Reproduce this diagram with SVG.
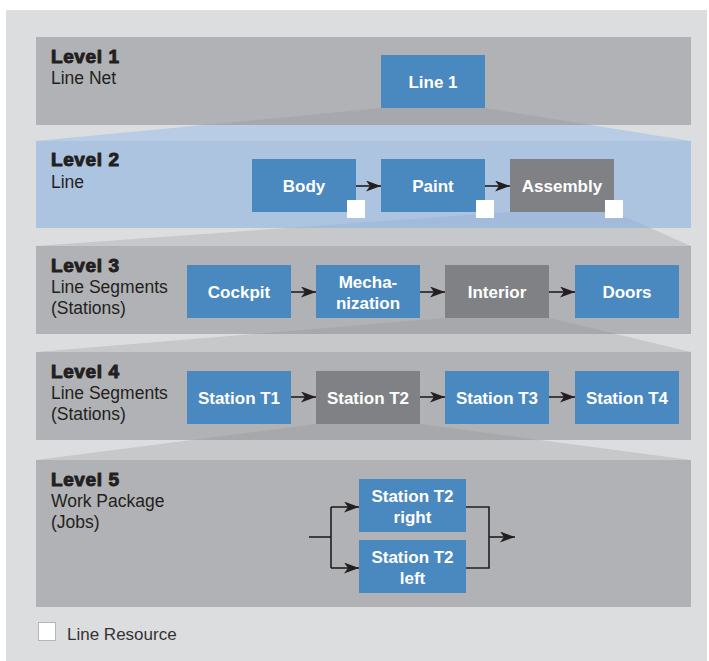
<svg xmlns="http://www.w3.org/2000/svg" width="709" height="661" viewBox="0 0 709 661">
  <defs>
    <marker id="arrow" markerUnits="userSpaceOnUse" markerWidth="16" markerHeight="12" refX="15" refY="5.5" orient="auto">
      <path d="M0,0 L15,5.5 L0,11 L4,5.5 Z" fill="#231f20"/>
    </marker>
    <style>
      .bg { fill: #dcdddf; }
      .band { fill: #b1b2b5; }
      .band-blue { fill: #adc4e0; }
      .fan-gray { fill: #c7c8ca; }
      .fan-blue { fill: #b8cce6; }
      .fan-dark { fill: #a7a8ab; }
      .fan-dark-blue { fill: #a2bbda; }
      .box { fill: #4a88c0; }
      .box-gray { fill: #808184; }
      .res { fill: #ffffff; }
      .lvl { font-family: "Liberation Sans", Arial, sans-serif; font-weight: bold; font-size: 19px; letter-spacing: 0.6px; fill: #231f20; stroke: #231f20; stroke-width: 1px; stroke-linejoin: round; }
      .sub { font-family: "Liberation Sans", Arial, sans-serif; font-size: 17.5px; fill: #231f20; }
      .lbl { font-family: "Liberation Sans", Arial, sans-serif; font-weight: bold; font-size: 17px; fill: #ffffff; text-anchor: middle; }
      .conn { fill: none; stroke: #231f20; stroke-width: 1.6; }
      .legend { font-family: "Liberation Sans", Arial, sans-serif; font-size: 17px; fill: #333333; }
    </style>
  </defs>

  <!-- background panel -->
  <rect class="bg" x="6" y="10" width="701" height="651"/>

  <!-- projection fans in the gaps between levels -->
  <polygon class="fan-blue" points="381,108 485,108 691,141 36,141"/>
  <polygon class="fan-gray" points="510,212 614,212 691,246 36,246"/>
  <polygon class="fan-gray" points="445,318 549,318 691,352 36,352"/>
  <polygon class="fan-gray" points="316,424 420,424 691,460 36,460"/>

  <!-- level bands -->
  <rect class="band" x="36" y="37" width="655" height="88"/>
  <rect class="band-blue" x="36" y="141" width="655" height="87"/>
  <rect class="band" x="36" y="246" width="655" height="88"/>
  <rect class="band" x="36" y="352" width="655" height="88"/>
  <rect class="band" x="36" y="460" width="655" height="147"/>

  <!-- projection fans inside the source bands -->
  <polygon class="fan-dark" points="381,108 485,108 591,125 203,125"/>
  <polygon class="fan-dark-blue" points="510,212 614,212 650,228 287,228"/>
  <polygon class="fan-dark" points="445,318 549,318 616,334 253,334"/>
  <polygon class="fan-dark" points="316,424 420,424 540,440 192,440"/>

  <!-- level titles -->
  <g id="level1-title">
    <text class="lvl" x="51" y="63">Level 1</text>
    <text class="sub" x="51" y="84">Line Net</text>
  </g>
  <g id="level2-title">
    <text class="lvl" x="51" y="166">Level 2</text>
    <text class="sub" x="51" y="188">Line</text>
  </g>
  <g id="level3-title">
    <text class="lvl" x="51" y="272">Level 3</text>
    <text class="sub" x="51" y="293">Line Segments</text>
    <text class="sub" x="51" y="314">(Stations)</text>
  </g>
  <g id="level4-title">
    <text class="lvl" x="51" y="378">Level 4</text>
    <text class="sub" x="51" y="399">Line Segments</text>
    <text class="sub" x="51" y="420">(Stations)</text>
  </g>
  <g id="level5-title">
    <text class="lvl" x="51" y="486">Level 5</text>
    <text class="sub" x="51" y="507">Work Package</text>
    <text class="sub" x="51" y="528">(Jobs)</text>
  </g>

  <!-- connectors -->
  <g id="connectors">
    <line class="conn" x1="356" y1="186" x2="381" y2="186" marker-end="url(#arrow)"/>
    <line class="conn" x1="485" y1="186" x2="510" y2="186" marker-end="url(#arrow)"/>
    <line class="conn" x1="291" y1="292" x2="316" y2="292" marker-end="url(#arrow)"/>
    <line class="conn" x1="420" y1="292" x2="445" y2="292" marker-end="url(#arrow)"/>
    <line class="conn" x1="549" y1="292" x2="575" y2="292" marker-end="url(#arrow)"/>
    <line class="conn" x1="291" y1="397" x2="316" y2="397" marker-end="url(#arrow)"/>
    <line class="conn" x1="420" y1="397" x2="445" y2="397" marker-end="url(#arrow)"/>
    <line class="conn" x1="549" y1="397" x2="575" y2="397" marker-end="url(#arrow)"/>
    <path class="conn" d="M309,537 H331"/>
    <path class="conn" d="M331,507 V568"/>
    <path class="conn" d="M331,507 H359" marker-end="url(#arrow)"/>
    <path class="conn" d="M331,568 H359" marker-end="url(#arrow)"/>
    <path class="conn" d="M466,507 H489 V568 H466"/>
    <path class="conn" d="M489,537 H515" marker-end="url(#arrow)"/>
  </g>

  <!-- level 1 -->
  <g id="line1">
    <rect class="box" x="381" y="55" width="104" height="53"/>
    <text class="lbl" x="433" y="88">Line 1</text>
  </g>

  <!-- level 2 -->
  <g id="body">
    <rect class="box" x="252" y="159" width="104" height="53"/>
    <text class="lbl" x="304" y="192">Body</text>
    <rect class="res" x="347" y="200" width="18" height="18"/>
  </g>
  <g id="paint">
    <rect class="box" x="381" y="159" width="104" height="53"/>
    <text class="lbl" x="433" y="192">Paint</text>
    <rect class="res" x="476" y="200" width="18" height="18"/>
  </g>
  <g id="assembly">
    <rect class="box-gray" x="510" y="159" width="104" height="53"/>
    <text class="lbl" x="562" y="192">Assembly</text>
    <rect class="res" x="605" y="200" width="18" height="18"/>
  </g>

  <!-- level 3 -->
  <g id="cockpit">
    <rect class="box" x="187" y="265" width="104" height="53"/>
    <text class="lbl" x="239" y="298">Cockpit</text>
  </g>
  <g id="mechanization">
    <rect class="box" x="316" y="265" width="104" height="53"/>
    <text class="lbl" x="368" y="288">Mecha-</text>
    <text class="lbl" x="368" y="309">nization</text>
  </g>
  <g id="interior">
    <rect class="box-gray" x="445" y="265" width="104" height="53"/>
    <text class="lbl" x="497" y="298">Interior</text>
  </g>
  <g id="doors">
    <rect class="box" x="575" y="265" width="104" height="53"/>
    <text class="lbl" x="627" y="298">Doors</text>
  </g>

  <!-- level 4 -->
  <g id="station-t1">
    <rect class="box" x="187" y="371" width="104" height="53"/>
    <text class="lbl" x="239" y="404">Station T1</text>
  </g>
  <g id="station-t2">
    <rect class="box-gray" x="316" y="371" width="104" height="53"/>
    <text class="lbl" x="368" y="404">Station T2</text>
  </g>
  <g id="station-t3">
    <rect class="box" x="445" y="371" width="104" height="53"/>
    <text class="lbl" x="497" y="404">Station T3</text>
  </g>
  <g id="station-t4">
    <rect class="box" x="575" y="371" width="104" height="53"/>
    <text class="lbl" x="627" y="404">Station T4</text>
  </g>

  <!-- level 5 -->
  <g id="station-t2-right">
    <rect class="box" x="359" y="479" width="107" height="53"/>
    <text class="lbl" x="412.5" y="502">Station T2</text>
    <text class="lbl" x="412.5" y="523">right</text>
  </g>
  <g id="station-t2-left">
    <rect class="box" x="359" y="540" width="107" height="53"/>
    <text class="lbl" x="412.5" y="563">Station T2</text>
    <text class="lbl" x="412.5" y="584">left</text>
  </g>

  <!-- legend -->
  <g id="legend">
    <rect x="38.5" y="622.5" width="17" height="18" fill="#ffffff" stroke="#b5b6b8" stroke-width="1"/>
    <text class="legend" x="67" y="640">Line Resource</text>
  </g>
</svg>
